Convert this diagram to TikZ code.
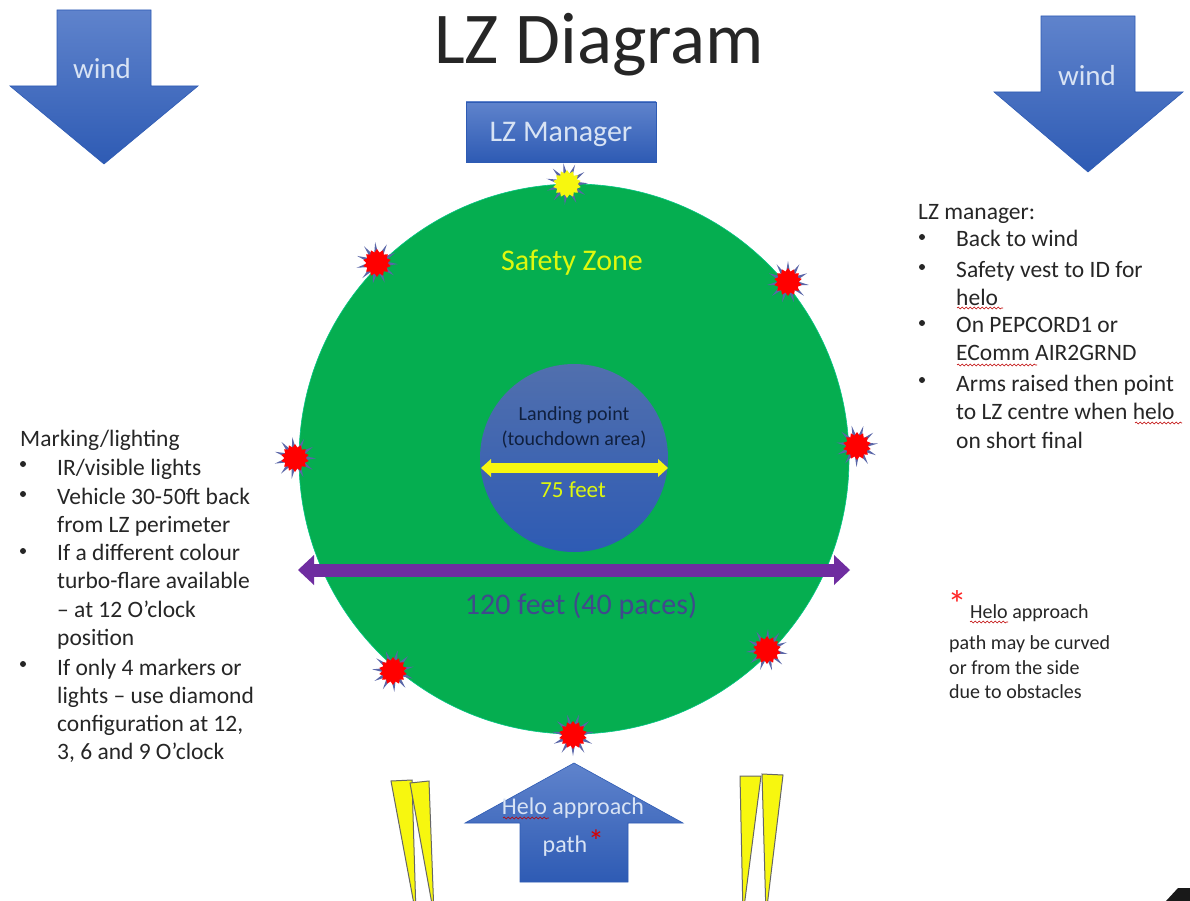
\documentclass[tikz,border=0pt]{standalone}
\usepackage{fontspec}
\setmainfont{Carlito}
\usetikzlibrary{shapes.geometric,decorations.pathmorphing,calc}
\definecolor{lzgreen}{HTML}{05AE50}
\definecolor{lztop}{HTML}{5F83CC}
\definecolor{lzbot}{HTML}{2E5BB4}
\definecolor{lzpurple}{HTML}{6F2DA0}
\definecolor{lzspike}{HTML}{5A66A8}
\definecolor{lzyellow}{HTML}{F7F70F}
\definecolor{lzlabel}{HTML}{D8E3F4}
\definecolor{lztext}{HTML}{262626}
\definecolor{lzfeet}{HTML}{404A8C}
\tikzset{
  x=1pt,y=-1pt,
  bluefill/.style={top color=lztop,bottom color=lzbot,draw=lzbot,line width=0.6pt},
  wedge/.style={fill=lzyellow,draw=gray!80!black,line width=1pt},
  onblue/.style={text=lzlabel,font=\fontsize{29}{32}\selectfont,inner sep=0pt},
  body/.style={text=lztext,align=left,anchor=north west,inner sep=0pt,font=\fontsize{23.5}{28.3}\selectfont},
  notetext/.style={text=lztext,align=left,anchor=north west,inner sep=0pt,font=\fontsize{20}{24.5}\selectfont},
  squig/.style={draw=red!75!black,line width=0.6pt,decorate,decoration={snake,amplitude=0.9pt,segment length=4pt}},
  burst outer/.style={star,star points=11,star point ratio=2.6,minimum size=42pt,fill=lzspike,inner sep=0pt},
  burst inner/.style={star,star points=14,star point ratio=1.3,minimum size=28pt,inner sep=0pt},
  bigarrow/.style={bluefill}
}
\newcommand{\lzburst}[4]{%
  \node[burst outer,rotate=#4] (#1o) at #2 {};
  \node[burst inner,fill=#3] (#1i) at #2 {};
}
\newcommand{\lzbullet}[2]{\fill[lztext] (#1,#2) circle (3pt);}
\begin{document}
\begin{tikzpicture}
\useasboundingbox (0,0) rectangle (1190,901);
\clip (0,0) rectangle (1190,901);
\fill[white] (0,0) rectangle (1190,901);

\node[text=black!85,font=\fontsize{73}{80}\selectfont,inner sep=0pt] (title) at (599,45) {LZ Diagram};

% wind arrows
\draw[bigarrow] (57,10) -- (151,10) -- (151,86) -- (198,86) -- (104,164) -- (10,86) -- (57,86) -- cycle;
\node[onblue] (wind1) at (102,69) {wind};
\draw[bigarrow] (1041,16) -- (1135,16) -- (1135,92) -- (1183,92) -- (1088,172) -- (994,92) -- (1041,92) -- cycle;
\node[onblue] (wind2) at (1087,76) {wind};

% manager
\node[bluefill,minimum width=190pt,minimum height=60pt,inner sep=0pt] (manager) at (561,132) {};
\node[onblue,font=\fontsize{30}{32}\selectfont] (managertxt) at (561,134) {LZ Manager};

% safety zone
\node[circle,fill=lzgreen,draw=lzgreen!70!cyan,line width=0.6pt,minimum size=550pt,inner sep=0pt] (zone) at (574,459) {};
\node[text=lzyellow!90!green,font=\fontsize{30}{32}\selectfont,inner sep=0pt] (safety) at (572,263) {Safety Zone};

% landing point
\node[circle,top color=lztop!85!black,bottom color=lzbot,minimum size=188pt,inner sep=0pt] (landing) at (574,458) {};
\node[align=center,text=lzbot!35!black,font=\fontsize{20}{25}\selectfont,inner sep=0pt] (landingtxt) at (574,427) {Landing point\\(touchdown area)};
\coordinate (yl) at (481,468);
\coordinate (yr) at (668,468);
\draw[lzyellow,line width=10pt] ($(yl)+(8,0)$) -- ($(yr)+(-8,0)$);
\fill[lzyellow] (yl) -- ++(10,-9) -- ++(0,18) -- cycle;
\fill[lzyellow] (yr) -- ++(-10,-9) -- ++(0,18) -- cycle;
\node[text=lzyellow!90!green,font=\fontsize{23}{26}\selectfont,inner sep=0pt] (feet75) at (573,490) {75 feet};

% 120 ft arrow
\coordinate (pl) at (298,570);
\coordinate (pr) at (850,570);
\draw[lzpurple,line width=13pt] ($(pl)+(14,0)$) -- ($(pr)+(-14,0)$);
\fill[lzpurple] (pl) -- ++(16,-15) -- ++(0,30) -- cycle;
\fill[lzpurple] (pr) -- ++(-16,-15) -- ++(0,30) -- cycle;
\node[text=lzfeet,font=\fontsize{30}{32}\selectfont,inner sep=0pt] (feet120) at (581,606) {120 feet (40 paces)};

% perimeter markers
\lzburst{m12}{(567,184)}{lzyellow}{10}
\lzburst{m1}{(788,282)}{red}{0}
\lzburst{m3}{(857,446)}{red}{15}
\lzburst{m5}{(767,650)}{red}{30}
\lzburst{m6}{(573,735)}{red}{180}
\lzburst{m7}{(393,671)}{red}{20}
\lzburst{m9}{(295,458)}{red}{40}
\lzburst{m11}{(377,263)}{red}{5}

% left text
\node[body] (marking) at (20,430) {Marking/lighting};
\node[body] (l1) at (57,459) {IR/visible lights};
\node[body] (l2) at (57,488) {Vehicle 30-50ft back\\from LZ perimeter};
\node[body] (l3) at (57,544) {If a different colour\\turbo-flare available\\– at 12 O’clock\\position};
\node[body] (l4) at (57,658.5) {If only 4 markers or\\lights – use diamond\\configuration at 12,\\3, 6 and 9 O’clock};
\lzbullet{23}{464}
\lzbullet{23}{494}
\lzbullet{23}{551}
\lzbullet{23}{664}

% right text
\node[body] (mgr) at (918,204) {LZ manager:};
\node[body] (r1) at (956,230) {Back to wind};
\node[body] (r2) at (956,261) {Safety vest to ID for\\helo};
\node[body] (r3) at (956,317) {On PEPCORD1 or\\EComm AIR2GRND};
\node[body] (r4) at (956,375) {Arms raised then point\\to LZ centre when helo\\on short final};
\lzbullet{922}{237}
\lzbullet{922}{267}
\lzbullet{922}{323}
\lzbullet{922}{380}
\coordinate (s1a) at (957,308); \coordinate (s1b) at (1003,308);
\coordinate (s2a) at (957,365); \coordinate (s2b) at (1037,365);
\coordinate (s3a) at (1135,423); \coordinate (s3b) at (1182,423);
\draw[squig] (s1a) -- (s1b);
\draw[squig] (s2a) -- (s2b);
\draw[squig] (s3a) -- (s3b);

% helo note
\node[text=red!85!white,font=\fontsize{38}{40}\selectfont,inner sep=0pt] (star) at (957,604) {*};
\node[notetext] (note1) at (970,604) {Helo approach};
\node[notetext] (note2) at (949,635.5) {path may be curved\\or from the side\\due to obstacles};
\coordinate (s4a) at (970,622); \coordinate (s4b) at (1008,622);
\draw[squig] (s4a) -- (s4b);

% approach arrow
\draw[bigarrow] (574,763) -- (683,823) -- (628,823) -- (628,882) -- (520,882) -- (520,823) -- (465,823) -- cycle;
\node[onblue,font=\fontsize{24}{26}\selectfont] (helo) at (573,808) {Helo approach};
\node[onblue,font=\fontsize{24}{26}\selectfont] (path) at (565,846) {path};
\node[text=red!85!black,font=\fontsize{32}{34}\selectfont,inner sep=0pt] (pstar) at (596,841) {*};
\coordinate (s5a) at (503,818); \coordinate (s5b) at (549,818);
\draw[squig] (s5a) -- (s5b);

% wedges
\draw[wedge] (391,781) -- (412,780) -- (416,915) -- cycle;
\draw[wedge] (410,783) -- (429,781) -- (434,915) -- cycle;
\draw[wedge] (740,776) -- (761,776) -- (743,915) -- cycle;
\draw[wedge] (762,774) -- (783,775) -- (766,915) -- cycle;

% corner
\fill[black!90] (1190,888) -- (1190,901) -- (1166,901) -- (1178,888) -- cycle;
\end{tikzpicture}
\end{document}
